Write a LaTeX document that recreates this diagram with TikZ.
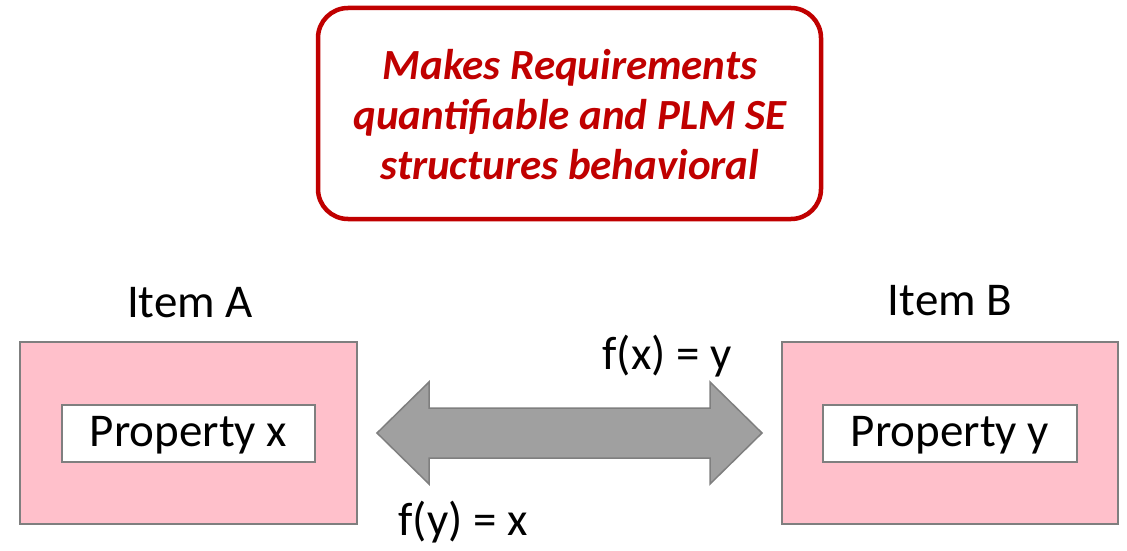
\documentclass[tikz,border=0pt]{standalone}
\usepackage{fontspec}
\setmainfont{Carlito}
\definecolor{darkred}{HTML}{C00000}
\definecolor{pinkfill}{HTML}{FFC0CB}
\definecolor{edgegray}{HTML}{7F7F7F}
\definecolor{arrowgray}{HTML}{A0A0A0}
\begin{document}
\begin{tikzpicture}[x=1pt,y=-1pt,
  itembox/.style={draw=edgegray,line width=1.5pt,fill=pinkfill},
  propbox/.style={draw=edgegray,line width=1.5pt,fill=white},
  lbl/.style={inner sep=0pt,font=\fontsize{47}{52}\selectfont},
  proptext/.style={inner sep=0pt,font=\fontsize{47}{52}\selectfont}]
\useasboundingbox (0,0) rectangle (1127,551);
% top callout
\draw[draw=darkred,line width=4.5pt,rounded corners=30pt,fill=white] (318,8) rectangle (821,219);
\node[text=darkred,align=center,font=\fontsize{43}{50}\selectfont\bfseries\itshape] (msg) at (570,115)
  {Makes Requirements\\quantifiable and PLM SE\\structures behavioral};
% items
\draw[itembox] (20,342) rectangle (357,524);
\draw[itembox] (782,342) rectangle (1118,524);
\draw[propbox] (62,405) rectangle (315,462);
\draw[propbox] (823,405) rectangle (1077,462);
\node[proptext] (px) at (188.5,435) {Property x};
\node[proptext] (py) at (950,435) {Property y};
\node[lbl] (ia) at (190,303) {Item A};
\node[lbl] (ib) at (950,301) {Item B};
% double arrow
\draw[draw=edgegray,line width=1.5pt,fill=arrowgray,line join=miter]
  (377,433) -- (429,382) -- (429,408) -- (710,408) -- (710,382) -- (762,433)
  -- (710,484) -- (710,458) -- (429,458) -- (429,484) -- cycle;
\node[lbl] (fx) at (667,356) {f(x) = y};
\node[lbl] (fy) at (463,522) {f(y) = x};
\end{tikzpicture}
\end{document}
